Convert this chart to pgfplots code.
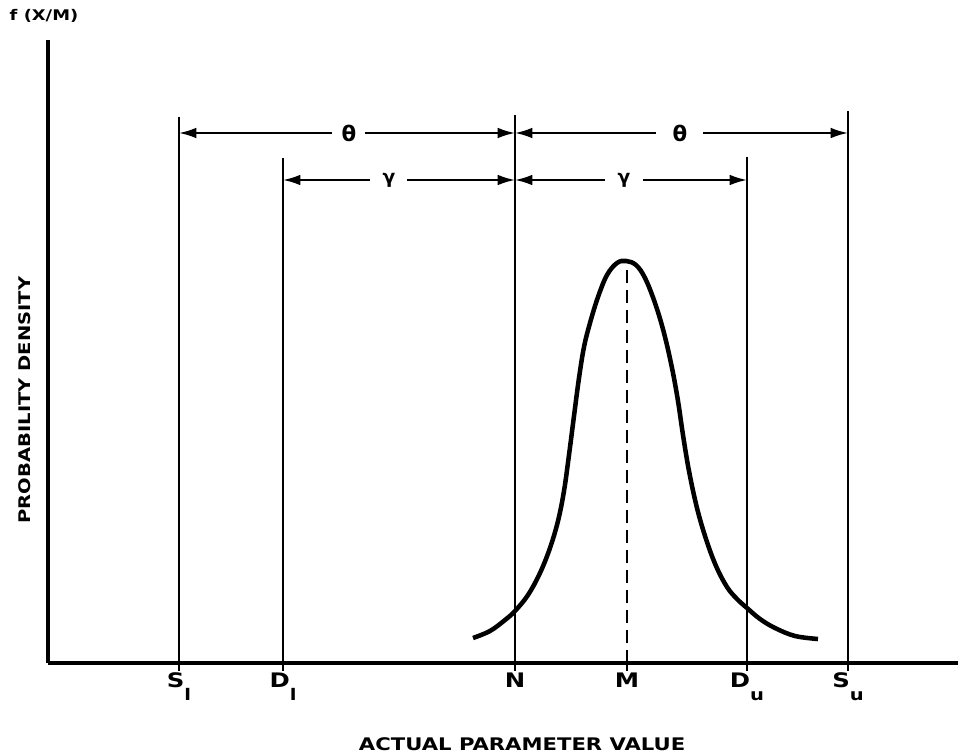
\documentclass[border=0pt]{standalone}
\usepackage{fontspec}
\setmainfont{DejaVu Sans}
\newfontfamily\wide[FakeStretch=1.22]{DejaVu Sans}
\usepackage{pgfplots}
\pgfplotsset{compat=1.18}
\usetikzlibrary{arrows.meta}
\newcommand{\sub}[1]{\raisebox{-0.65em}{\fontsize{12}{12}\selectfont #1}}
\begin{document}
\begin{tikzpicture}
\begin{axis}[name=ax, scale only axis, width=682.5pt, height=467.25pt,
  xmin=48, xmax=958, ymin=0, ymax=623, clip=false,
  axis x line=bottom, axis y line=left,
  axis line style={line width=2.8pt, -},
  xtick={179,283,515,627,747,848},
  xticklabels={S\sub{l}, D\sub{l}, N, M, D\sub{u}, S\sub{u}},
  ytick=\empty,
  tick align=outside, major tick length=6pt,
  tick style={line width=2pt, black},
  xticklabel style={font=\wide\bfseries\fontsize{15}{15}\selectfont, anchor=north, inner sep=0pt, yshift=-1pt},
  xlabel={ACTUAL PARAMETER VALUE},
  xlabel style={at={(axis description cs:0.521,-0.130)}, anchor=center, font=\wide\bfseries\fontsize{13}{13}\selectfont},
  ylabel={PROBABILITY DENSITY},
  ylabel style={at={(axis description cs:-0.0253,0.422)}, anchor=center, font=\wide\bfseries\fontsize{12}{12}\selectfont},
]
% vertical reference lines
\addplot[black, line width=2pt] coordinates {(179,0) (179,546)};
\addplot[black, line width=2pt] coordinates {(283,0) (283,505)};
\addplot[black, line width=2pt] coordinates {(515,0) (515,548)};
\addplot[black, line width=2pt] coordinates {(747,0) (747,506)};
\addplot[black, line width=2pt] coordinates {(848,0) (848,552)};
\addplot[black, line width=2.2pt, dash pattern=on 10pt off 5pt] coordinates {(627,0) (627,401)};
% density curve
\addplot[black, line width=3.4pt, smooth, tension=0.6] coordinates {
(473,25) (490,32) (505,43) (515,52) (528,68) (540,90) (550,115) (558,142)
(564,172) (569,208) (574,247) (579,285) (584,316) (590,340) (598,366) (607,388)
(617,400) (626,402)
(636,398) (645,385) (655,360) (664,330) (672,295) (678,262) (683,228) (689,192)
(697,155) (706,124) (716,97) (727,76) (737,64) (747,55) (760,44) (775,35)
(795,27) (818,24)};
% dimension arrows
\begin{scope}[line width=1.6pt, arr/.style={-{Latex[length=13pt,width=8pt]}}]
\draw[arr] (axis cs:332,530) -- (axis cs:179,530);
\draw[arr] (axis cs:365,530) -- (axis cs:515,530);
\draw[arr] (axis cs:656,530) -- (axis cs:515,530);
\draw[arr] (axis cs:703,530) -- (axis cs:848,530);
\draw[arr] (axis cs:370,483) -- (axis cs:283,483);
\draw[arr] (axis cs:407,483) -- (axis cs:515,483);
\draw[arr] (axis cs:605,483) -- (axis cs:515,483);
\draw[arr] (axis cs:643,483) -- (axis cs:747,483);
\end{scope}
\node[font=\bfseries\fontsize{16}{16}\selectfont] at (axis cs:349,530) {θ};
\node[font=\bfseries\fontsize{16}{16}\selectfont] at (axis cs:680,530) {θ};
\node[font=\bfseries\fontsize{14}{14}\selectfont] at (axis cs:389,483) {γ};
\node[font=\bfseries\fontsize{14}{14}\selectfont] at (axis cs:624,483) {γ};
\node[font=\wide\bfseries\fontsize{11}{11}\selectfont] at (axis cs:44,647) {f (X/M)};
\end{axis}
\pgfresetboundingbox
\path[use as bounding box] ([xshift=-36pt,yshift=-67.5pt]ax.south west) rectangle ([yshift=30pt]ax.north east);
\end{tikzpicture}
\end{document}
